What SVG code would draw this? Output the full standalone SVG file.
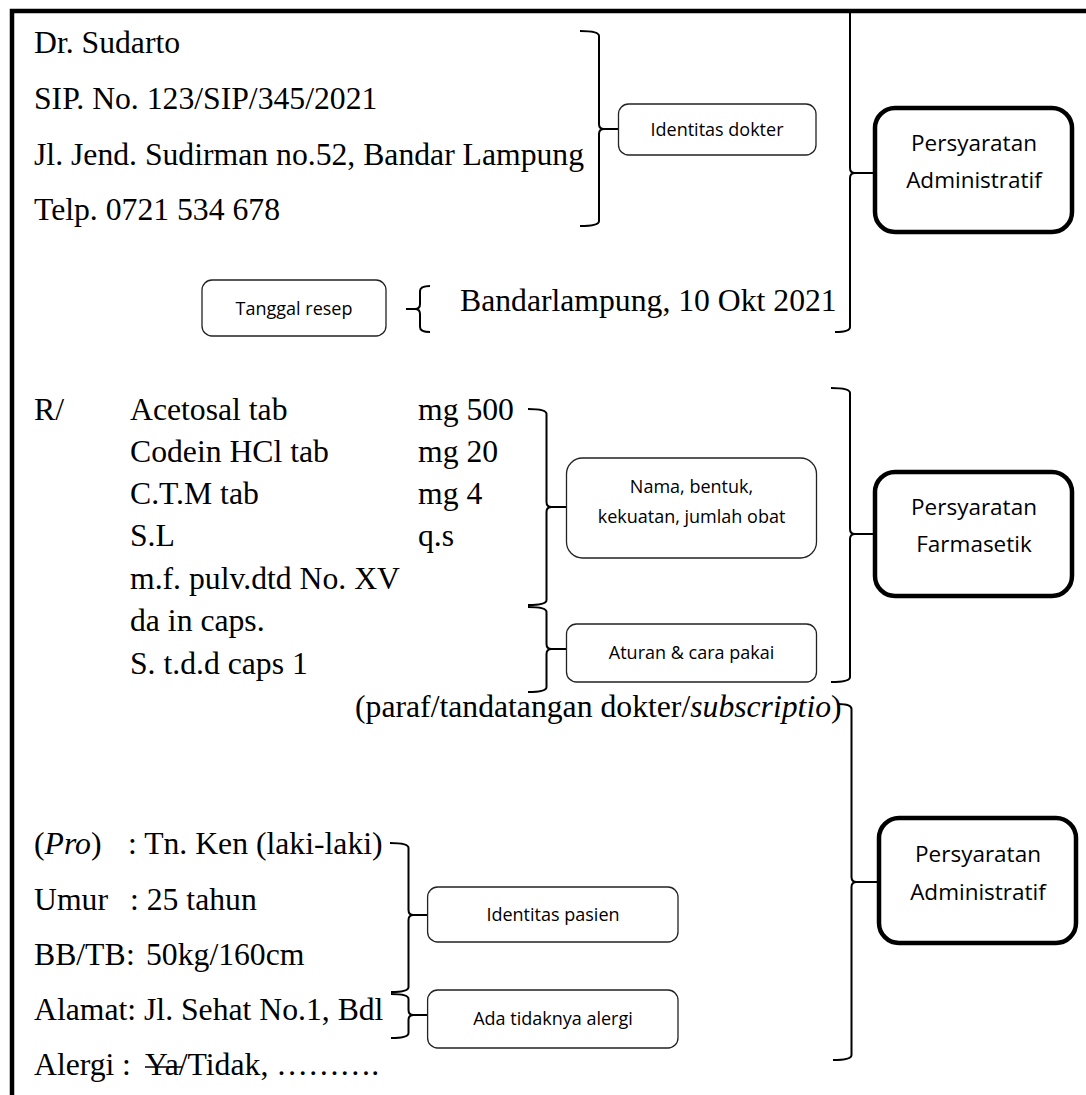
<svg xmlns="http://www.w3.org/2000/svg" width="1086" height="1095" viewBox="0 0 1086 1095">
<style>
.t{font-family:"Liberation Serif","Times New Roman",serif;font-size:31.7px;fill:#000}
.i{font-style:italic}
.s{font-family:"Open Sans","Noto Sans",sans-serif;font-size:18px;fill:#000;text-anchor:middle}
.b{font-family:"Open Sans","Noto Sans",sans-serif;font-size:22.5px;fill:#000;text-anchor:middle}
.box{fill:#fff;stroke:#222;stroke-width:1.3}
.big{fill:#fff;stroke:#000;stroke-width:4.5}
.br{fill:none;stroke:#000;stroke-width:2}
</style>
<rect width="1086" height="1095" fill="#fff"/>
<g id="frame"><path d="M12,1095 V11 H1086" fill="none" stroke="#000" stroke-width="4.5"/></g>

<g id="prescription-text">
<text class="t" x="34" y="53">Dr. Sudarto</text>
<text class="t" x="34" y="109">SIP. No. 123/SIP/345/2021</text>
<text class="t" x="34" y="165">Jl. Jend. Sudirman no.52, Bandar Lampung</text>
<text class="t" x="34" y="220">Telp. 0721 534 678</text>
<text class="t" x="460" y="311">Bandarlampung, 10 Okt 2021</text>
<text class="t" x="34" y="420">R/</text>
<text class="t" x="130" y="420">Acetosal tab</text>
<text class="t" x="418" y="420">mg 500</text>
<text class="t" x="130" y="462">Codein HCl tab</text>
<text class="t" x="418" y="462">mg 20</text>
<text class="t" x="130" y="504">C.T.M tab</text>
<text class="t" x="418" y="504">mg 4</text>
<text class="t" x="130" y="546">S.L</text>
<text class="t" x="418" y="546">q.s</text>
<text class="t" x="130" y="589">m.f. pulv.dtd No. XV</text>
<text class="t" x="130" y="631">da in caps.</text>
<text class="t" x="130" y="674">S. t.d.d caps 1</text>
<text class="t" x="355" y="717">(paraf/tandatangan dokter/<tspan class="i">subscriptio</tspan>)</text>
<text class="t" x="34" y="854">(<tspan class="i">Pro</tspan>)<tspan x="128">: Tn. Ken (laki-laki)</tspan></text>
<text class="t" x="34" y="910">Umur<tspan x="130">: 25 tahun</tspan></text>
<text class="t" x="34" y="965">BB/TB<tspan x="126">:</tspan><tspan x="146">50kg/160cm</tspan></text>
<text class="t" x="34" y="1020">Alamat: Jl. Sehat No.1, Bdl</text>
<text class="t" x="34" y="1075">Alergi<tspan x="122">:</tspan><tspan x="145">Ya/Tidak, ……….</tspan></text>
<line x1="145" y1="1067" x2="182" y2="1067" stroke="#000" stroke-width="1.5"/>
</g>

<g id="connectors">
<path class="br" d="M580,31 Q599,31 599,36 L599,124 Q599,129 604,129 L618,129 M604,129 Q599,129 599,134 L599,221 Q599,226 580,226"/>
<path class="br" d="M430,286 Q420,286 420,291 L420,304 Q420,309 415,309 L406,309 M415,309 Q420,309 420,314 L420,327 Q420,332 430,332"/>
<path class="br" d="M850,13 L850,168 Q850,173 855,173 L873,173 M855,173 Q850,173 850,178 L850,327 Q850,332 835,332"/>
<path class="br" d="M528,409 Q546.5,409 546.5,414 L546.5,502 Q546.5,507 551.5,507 L566,507 M551.5,507 Q546.5,507 546.5,512 L546.5,600 Q546.5,605 528,605"/>
<path class="br" d="M528,607 Q546.5,607 546.5,612 L546.5,644 Q546.5,649 551.5,649 L566,649 M551.5,649 Q546.5,649 546.5,654 L546.5,687 Q546.5,692 528,692"/>
<path class="br" d="M831,388 Q850,388 850,393 L850,529 Q850,534 855,534 L873,534 M855,534 Q850,534 850,539 L850,677 Q850,682 831,682"/>
<path class="br" d="M838,704 Q851.5,704 851.5,709 L851.5,877 Q851.5,882 856.5,882 L877,882 M856.5,882 Q851.5,882 851.5,887 L851.5,1055 Q851.5,1060 833,1060"/>
<path class="br" d="M390,843 Q408.5,843 408.5,848 L408.5,910 Q408.5,915 413.5,915 L427.6,915 M413.5,915 Q408.5,915 408.5,920 L408.5,987 Q408.5,992 391,992"/>
<path class="br" d="M391,994 Q408.5,994 408.5,999 L408.5,1010 Q408.5,1015 413.5,1015 L427.6,1015 M413.5,1015 Q408.5,1015 408.5,1020 L408.5,1033 Q408.5,1038 391,1038"/>
</g>

<g id="tanggal-resep"><rect class="box" x="202" y="280" width="184" height="56" rx="10"/><text class="s" x="294" y="314.5">Tanggal resep</text></g>
<g id="identitas-dokter"><rect class="box" x="618.5" y="104" width="197.5" height="51" rx="10"/><text class="s" x="717" y="136">Identitas dokter</text></g>
<g id="nama-obat"><rect class="box" x="566.5" y="458" width="250" height="100" rx="16"/><text class="s" x="691.5" y="493">Nama, bentuk,</text><text class="s" x="691.5" y="523">kekuatan, jumlah obat</text></g>
<g id="aturan-pakai"><rect class="box" x="566.5" y="624" width="250" height="58" rx="10"/><text class="s" x="691.5" y="659">Aturan &amp; cara pakai</text></g>
<g id="identitas-pasien"><rect class="box" x="427.6" y="887" width="250.4" height="55" rx="10"/><text class="s" x="553" y="920.5">Identitas pasien</text></g>
<g id="alergi"><rect class="box" x="427.6" y="990" width="250.4" height="58" rx="10"/><text class="s" x="553" y="1025">Ada tidaknya alergi</text></g>
<g id="persyaratan-administratif-1"><rect class="big" x="875" y="108" width="197" height="124" rx="20"/><text class="b" x="974" y="151">Persyaratan</text><text class="b" x="974" y="188">Administratif</text></g>
<g id="persyaratan-farmasetik"><rect class="big" x="875" y="472" width="197" height="124" rx="20"/><text class="b" x="974" y="515">Persyaratan</text><text class="b" x="974" y="552">Farmasetik</text></g>
<g id="persyaratan-administratif-2"><rect class="big" x="879" y="818" width="197" height="125" rx="20"/><text class="b" x="978" y="862">Persyaratan</text><text class="b" x="978" y="900">Administratif</text></g>
</svg>
